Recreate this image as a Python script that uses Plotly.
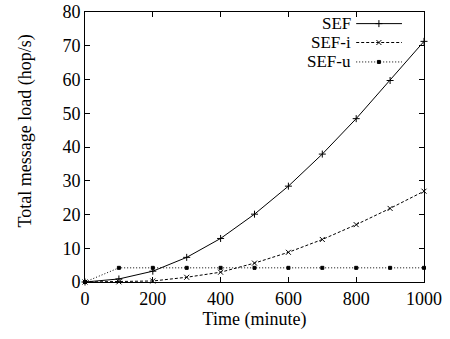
import plotly.graph_objects as go

time = [0, 100, 200, 300, 400, 500, 600, 700, 800, 900, 1000]
sef = [0, 0.9, 3.2, 7.3, 12.9, 20.1, 28.4, 37.9, 48.4, 59.7, 71.3]
sef_i = [0, 0.05, 0.3, 1.4, 2.9, 5.6, 8.8, 12.6, 17.0, 21.8, 26.9]
sef_u = [0, 4.2, 4.2, 4.2, 4.2, 4.2, 4.2, 4.2, 4.2, 4.2, 4.2]
names = ["SEF", "SEF-i", "SEF-u"]
xticks = [0, 200, 400, 600, 800, 1000]
yticks = [0, 10, 20, 30, 40, 50, 60, 70, 80]

FONT = "Liberation Serif, Times New Roman, serif"
FS = 18
styles = [
    dict(dash="solid", symbol="cross-thin", size=5),
    dict(dash="3px,2px", symbol="x-thin", size=5),
    dict(dash="1px,2px", symbol="square", size=3),
]

fig = go.Figure()
for name, ys, st in zip(names, [sef, sef_i, sef_u], styles):
    fig.add_trace(go.Scatter(
        x=time, y=ys, name=name, mode="lines+markers",
        line=dict(color="black", width=1, dash=st["dash"]),
        marker=dict(symbol=st["symbol"], size=st["size"], color="black",
                    line=dict(color="black", width=1)),
        showlegend=False, cliponaxis=False,
    ))

# custom legend (text left, sample right) on hidden overlay axes
leg_y = [0.957, 0.887, 0.815]
for name, st, yy in zip(names, styles, leg_y):
    fig.add_trace(go.Scatter(
        x=[0.80, 0.935], y=[yy, yy], mode="lines", xaxis="x2", yaxis="y2",
        line=dict(color="black", width=1, dash=st["dash"]), showlegend=False,
        hoverinfo="skip"))
    fig.add_trace(go.Scatter(
        x=[0.867], y=[yy], mode="markers", xaxis="x2", yaxis="y2",
        marker=dict(symbol=st["symbol"], size=st["size"], color="black",
                    line=dict(color="black", width=1)),
        showlegend=False, hoverinfo="skip"))
    fig.add_annotation(x=0.79, y=yy, xref="x2", yref="y2", text=name,
                       showarrow=False, xanchor="right", yanchor="middle",
                       font=dict(family=FONT, size=17, color="black"))

# y-axis title (placed like the reference, slightly above centre)
fig.add_annotation(x=-0.175, y=0.56, xref="paper", yref="paper",
                   text="Total message load (hop/s)", textangle=-90,
                   showarrow=False, xanchor="center", yanchor="middle",
                   font=dict(family=FONT, size=FS, color="black"))

axis_common = dict(
    showline=True, linecolor="black", linewidth=1, mirror="ticks",
    ticks="inside", ticklen=5, tickcolor="black", showgrid=False,
    zeroline=False, automargin=False,
    tickfont=dict(family=FONT, size=FS, color="black"),
)
fig.update_layout(
    width=450, height=339,
    margin=dict(l=85, r=26, t=12, b=57),
    plot_bgcolor="white", paper_bgcolor="white",
    xaxis=dict(range=[0, 1000], tickvals=xticks,
               title=dict(text="Time (minute)", standoff=3,
                          font=dict(family=FONT, size=FS, color="black")),
               **axis_common),
    yaxis=dict(range=[0, 80], tickvals=yticks, **axis_common),
    xaxis2=dict(range=[0, 1], overlaying="x", visible=False),
    yaxis2=dict(range=[0, 1], overlaying="y", visible=False),
)
fig.write_html("out.html", config={"displayModeBar": False},
               post_script="document.body.style.margin='0';document.body.style.overflow='hidden';")
